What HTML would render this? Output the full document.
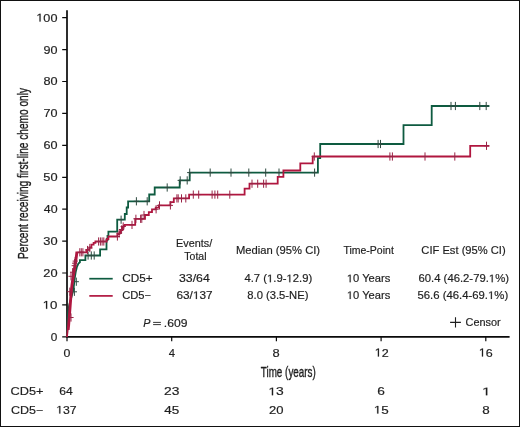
<!DOCTYPE html>
<html><head><meta charset="utf-8"><style>
html,body{margin:0;padding:0;background:#fff;}
body{width:520px;height:427px;overflow:hidden;}
svg{display:block;will-change:transform;}
.o{fill:none;stroke:none;}
text{font-family:"Liberation Sans",sans-serif;font-size:11px;fill:#1e1e1e;stroke:#1e1e1e;stroke-width:0.18px;}
</style></head><body>
<svg width="520" height="427" viewBox="0 0 520 427">
<rect x="0.5" y="0.5" width="519" height="426" fill="#fff" stroke="#111" stroke-width="1"/>
<g fill="none" stroke="#0a0a0a" stroke-width="1.7">
<path d="M67 10.3V337.5M66.3 336.8H509.6"/>
<path d="M62.2 336.8H67M62.2 304.9H67M62.2 273H67M62.2 241.1H67M62.2 209.2H67M62.2 177.3H67M62.2 145.3H67M62.2 113.4H67M62.2 81.5H67M62.2 49.6H67M62.2 17.7H67M67 336.8V341.3M171.7 336.8V341.3M276.4 336.8V341.3M381.1 336.8V341.3M485.8 336.8V341.3" stroke-width="1.2"/>
</g>
<text id="ylab" transform="translate(28.2 173.45) rotate(-90)" text-anchor="middle" textLength="171" lengthAdjust="spacingAndGlyphs" style="font-size:14.4px;stroke:#1e1e1e;stroke-width:0.35">Percent receiving first-line chemo only</text>
<text id="xlab" transform="translate(288.3 376.6)" text-anchor="middle" textLength="55" lengthAdjust="spacingAndGlyphs" style="font-size:14.4px;stroke:#1e1e1e;stroke-width:0.35">Time (years)</text>
<g fill="none" stroke-linejoin="miter" stroke-linecap="butt">
<polyline points="67,337 67.5,325 68.2,312 69.2,305 70.3,301 71.5,297 72.8,292 73.6,288 74.2,283 74.9,277 75.7,272 76.9,267 78.4,263.6 79.9,262.3 79.9,260.2 85.4,260.2 85.4,255.5 100.1,255.5 100.1,249.4 106.5,249.4 106.5,240 107.5,240 107.5,236 108.4,236 108.4,231.6 117.2,231.6 117.2,219.7 124.8,219.7 124.8,214 126.7,214 126.7,207.5 128.1,207.5 128.1,201.3 149.2,201.3 149.2,194.5 154.7,194.5 154.7,187.5 179.7,187.5 179.7,180.4 189.7,180.4 189.7,172.6 317.9,172.6 317.9,158.1 320.2,158.1 320.2,144 403.5,144 403.5,125.2 431.7,125.2 431.7,106 489.4,106" stroke="#0e5b40" stroke-width="1.8"/>
<path d="M88.1 251.4v8.2M85.5 255.5h5.2M91.3 251.4v8.2M88.7 255.5h5.2M94.2 251.4v8.2M91.6 255.5h5.2M121.1 215.6v8.2M118.5 219.7h5.2M136.4 197.2v8.2M133.8 201.3h5.2M147.2 197.2v8.2M144.6 201.3h5.2M167.2 183.4v8.2M164.6 187.5h5.2M180.2 176.3v8.2M177.6 180.4h5.2M187.2 176.3v8.2M184.6 180.4h5.2M189.7 168.5v8.2M187.1 172.6h5.2M210.2 168.5v8.2M207.6 172.6h5.2M231 168.5v8.2M228.4 172.6h5.2M248.8 168.5v8.2M246.2 172.6h5.2M265.7 168.5v8.2M263.1 172.6h5.2M279 168.5v8.2M276.4 172.6h5.2M314.6 168.5v8.2M312 172.6h5.2M378.1 139.9v8.2M375.5 144h5.2M380.5 139.9v8.2M377.9 144h5.2M451 101.9v8.2M448.4 106h5.2M455.4 101.9v8.2M452.8 106h5.2M479.8 101.9v8.2M477.2 106h5.2M486.2 101.9v8.2M483.6 106h5.2M76.3 277.6v8.2M73.7 281.7h5.2M74.4 287.7v8.2M71.8 291.8h5.2" stroke="#2e4a40" stroke-width="1"/>
<polyline points="67,337 67.6,330 68.1,325 68.9,315 69.6,306 70.2,298 70.8,291 71.4,285 72.3,279 73.1,274 73.9,269 74.6,265 75.2,261 75.6,258 76,255 76.3,252.3 86.5,252.3 86.5,249.8 89.3,249.8 89.3,247.5 91.4,247.5 91.4,244.7 93.6,244.7 93.6,242.8 95.4,242.8 95.4,241.5 106.7,241.5 106.7,239 108.4,239 108.4,236.5 117.4,236.5 117.4,234.1 119.4,234.1 119.4,232.2 120.8,232.2 120.8,230 122.2,230 122.2,227.8 123.6,227.8 123.6,225.8 124.7,225.8 124.7,224.9 135.2,224.9 135.2,218.8 145,218.8 145,215 148.8,215 148.8,212.2 152,212.2 152,209.3 155.7,209.3 155.7,207.6 158.9,207.6 158.9,205.4 170.4,205.4 170.4,202.2 173.8,202.2 173.8,198.4 189.1,198.4 189.1,194.6 244.6,194.6 244.6,188.6 249.5,188.6 249.5,183.7 277.7,183.7 277.7,176.8 283.4,176.8 283.4,170.5 300.3,170.5 300.3,163.4 312.7,163.4 312.7,156.5 470.2,156.5 470.2,145.8 489.4,145.8" stroke="#b0163f" stroke-width="1.8"/>
<polyline points="68.7,330 69.2,325 70,315 70.7,306 71.3,298 71.9,291 72.5,285 73.4,279 74.2,274 75,269 75.7,265 76.3,261 76.7,258 77.1,255 77.4,252.3" stroke="#b0163f" stroke-width="1.8"/>
<path d="M79.8 248.2v8.2M77.2 252.3h5.2M81.3 248.2v8.2M78.7 252.3h5.2M82.9 248.2v8.2M80.3 252.3h5.2M98.6 237.4v8.2M96 241.5h5.2M100.4 237.4v8.2M97.8 241.5h5.2M102.1 237.4v8.2M99.5 241.5h5.2M103.8 237.4v8.2M101.2 241.5h5.2M117.4 232.4v8.2M114.8 236.5h5.2M132 220.8v8.2M129.4 224.9h5.2M135.9 214.7v8.2M133.3 218.8h5.2M140.6 214.7v8.2M138 218.8h5.2M141.8 214.7v8.2M139.2 218.8h5.2M144 210.9v8.2M141.4 215h5.2M156.1 205.2v8.2M153.5 209.3h5.2M159.5 201.3v8.2M156.9 205.4h5.2M170.4 201.3v8.2M167.8 205.4h5.2M176.9 194.3v8.2M174.3 198.4h5.2M178.2 194.3v8.2M175.6 198.4h5.2M181.5 194.3v8.2M178.9 198.4h5.2M185.8 194.3v8.2M183.2 198.4h5.2M193.3 190.5v8.2M190.7 194.6h5.2M198.7 190.5v8.2M196.1 194.6h5.2M212.1 190.5v8.2M209.5 194.6h5.2M214.9 190.5v8.2M212.3 194.6h5.2M217.7 190.5v8.2M215.1 194.6h5.2M229.8 190.5v8.2M227.2 194.6h5.2M252 179.6v8.2M249.4 183.7h5.2M257.7 179.6v8.2M255.1 183.7h5.2M263.6 179.6v8.2M261 183.7h5.2M266.1 179.6v8.2M263.5 183.7h5.2M314.3 152.4v8.2M311.7 156.5h5.2M389.9 152.4v8.2M387.3 156.5h5.2M392.4 152.4v8.2M389.8 156.5h5.2M425 152.4v8.2M422.4 156.5h5.2M454.8 152.4v8.2M452.2 156.5h5.2M486.5 141.7v8.2M483.9 145.8h5.2M71 313.4v8.2M68.4 317.5h5.2M69.8 287.6v8.2M67.2 291.7h5.2M71 272.2v8.2M68.4 276.3h5.2M72.6 268.1v8.2M70 272.2h5.2M74.2 261.6v8.2M71.6 265.7h5.2M74.6 259.1v8.2M72 263.2h5.2M75.2 257v8.2M72.6 261.1h5.2M87.5 245.9v8.2M84.9 250h5.2M89.8 243.9v8.2M87.2 248h5.2M119.2 229.4v8.2M116.6 233.5h5.2M121.6 225.4v8.2M119 229.5h5.2M123.2 222.4v8.2M120.6 226.5h5.2" stroke="#9a2346" stroke-width="1"/>
<path d="M89.3 278.7H112.7" stroke="#0e5b40" stroke-width="1.7"/>
<path d="M89.3 295.9H112.7" stroke="#b0163f" stroke-width="1.7"/>
<path d="M455.5 317.2V327.6M450.1 322.4H460.9" stroke="#1e1e1e" stroke-width="1.1"/>
<path d="M153.1 322.4H160.9M153.1 324.6H160.9" stroke="#1e1e1e" stroke-width="0.9"/>
</g>
<text id="h1" x="176.05" y="246.7" textLength="36.1" lengthAdjust="spacingAndGlyphs">Events/</text>
<text id="h2" x="184.37" y="259.9" textLength="22.19" lengthAdjust="spacingAndGlyphs">Total</text>
<text id="h3" x="235.91" y="253.7" textLength="84.19" lengthAdjust="spacingAndGlyphs">Median (95% CI)</text>
<text id="h4" x="343.42" y="253.8" textLength="50.4" lengthAdjust="spacingAndGlyphs">Time-Point</text>
<text id="h5" x="421.35" y="253.8" textLength="84.31" lengthAdjust="spacingAndGlyphs">CIF Est (95% CI)</text>
<text id="l1" x="122.25" y="282.2" textLength="30.36" lengthAdjust="spacingAndGlyphs">CD5+</text>
<text id="l2" x="122.16" y="299" textLength="28.9" lengthAdjust="spacingAndGlyphs">CD5&#8722;</text>
<text id="e1" x="178.99" y="282.2" textLength="30.77" lengthAdjust="spacingAndGlyphs">33/64</text>
<text id="e2" x="176.51" y="299" textLength="36.07" lengthAdjust="spacingAndGlyphs">63/<tspan class="o">1</tspan>37</text>
<text id="m1" x="244.4" y="282.2" textLength="67.82" lengthAdjust="spacingAndGlyphs">4.7 (<tspan class="o">1</tspan>.9-<tspan class="o">1</tspan>2.9)</text>
<text id="m2" x="247.3" y="299" textLength="61.12" lengthAdjust="spacingAndGlyphs">8.0 (3.5-NE)</text>
<text id="t1" x="346.85" y="282.2" textLength="43.45" lengthAdjust="spacingAndGlyphs"><tspan class="o">1</tspan>0 Years</text>
<text id="t2" x="346.88" y="299" textLength="43.39" lengthAdjust="spacingAndGlyphs"><tspan class="o">1</tspan>0 Years</text>
<text id="c1" x="418.49" y="282.2" textLength="90.47" lengthAdjust="spacingAndGlyphs">60.4 (46.2-79.<tspan class="o">1</tspan>%)</text>
<text id="c2" x="417.48" y="299" textLength="90.7" lengthAdjust="spacingAndGlyphs">56.6 (46.4-69.<tspan class="o">1</tspan>%)</text>
<text id="p1" x="143.2" y="326.7" textLength="7.18" lengthAdjust="spacingAndGlyphs" style="font-size:11px;font-style:italic">P</text>
<text id="p3" x="163.81" y="326.7" textLength="23.66" lengthAdjust="spacingAndGlyphs">.609</text>
<text id="cs" x="465.53" y="325.9" textLength="35.16" lengthAdjust="spacingAndGlyphs">Censor</text>
<text id="r1" x="10.49" y="395.2" textLength="32.93" lengthAdjust="spacingAndGlyphs">CD5+</text>
<text id="r2" x="11.06" y="413.5" textLength="32.23" lengthAdjust="spacingAndGlyphs">CD5&#8722;</text>
<text id="ra0" x="59.22" y="395.2" textLength="13.46" lengthAdjust="spacingAndGlyphs">64</text>
<text id="ra1" x="163.98" y="395.2" textLength="15.37" lengthAdjust="spacingAndGlyphs">23</text>
<text id="ra2" x="268.38" y="395.2" textLength="15.42" lengthAdjust="spacingAndGlyphs"><tspan class="o">1</tspan>3</text>
<text id="ra3" x="377.39" y="395.2" textLength="7.62" lengthAdjust="spacingAndGlyphs">6</text>
<text id="ra4" x="481.99" y="395.2" textLength="8.66" lengthAdjust="spacingAndGlyphs"><tspan class="o">1</tspan></text>
<text id="rb0" x="56.16" y="413.5" textLength="20.47" lengthAdjust="spacingAndGlyphs"><tspan class="o">1</tspan>37</text>
<text id="rb1" x="164.3" y="413.5" textLength="15.03" lengthAdjust="spacingAndGlyphs">45</text>
<text id="rb2" x="269.13" y="413.5" textLength="14.49" lengthAdjust="spacingAndGlyphs">20</text>
<text id="rb3" x="373.79" y="413.5" textLength="14.97" lengthAdjust="spacingAndGlyphs"><tspan class="o">1</tspan>5</text>
<text id="rb4" x="482.22" y="413.5" textLength="7.47" lengthAdjust="spacingAndGlyphs">8</text>
<text id="x0" x="63.64" y="356.5" textLength="6.87" lengthAdjust="spacingAndGlyphs" style="font-size:11.6px;">0</text>
<text id="x1" x="168.68" y="356.5" textLength="6.26" lengthAdjust="spacingAndGlyphs" style="font-size:11.6px;">4</text>
<text id="x2" x="272.62" y="356.5" textLength="7.18" lengthAdjust="spacingAndGlyphs" style="font-size:11.6px;">8</text>
<text id="x3" x="374.71" y="356.5" textLength="13.98" lengthAdjust="spacingAndGlyphs" style="font-size:11.6px;"><tspan class="o">1</tspan>2</text>
<text id="x4" x="478.79" y="356.5" textLength="13.91" lengthAdjust="spacingAndGlyphs" style="font-size:11.6px;"><tspan class="o">1</tspan>6</text>
<text id="y0" x="50.85" y="340.7" textLength="6.57" lengthAdjust="spacingAndGlyphs" style="font-size:11.3px;">0</text>
<text id="y1" x="42.65" y="308.79" textLength="14.78" lengthAdjust="spacingAndGlyphs" style="font-size:11.3px;"><tspan class="o">1</tspan>0</text>
<text id="y2" x="43.29" y="276.88" textLength="14.25" lengthAdjust="spacingAndGlyphs" style="font-size:11.3px;">20</text>
<text id="y3" x="43.32" y="244.97" textLength="14.28" lengthAdjust="spacingAndGlyphs" style="font-size:11.3px;">30</text>
<text id="y4" x="43.77" y="213.06" textLength="13.79" lengthAdjust="spacingAndGlyphs" style="font-size:11.3px;">40</text>
<text id="y5" x="43.33" y="181.15" textLength="14.25" lengthAdjust="spacingAndGlyphs" style="font-size:11.3px;">50</text>
<text id="y6" x="43.46" y="149.24" textLength="14.03" lengthAdjust="spacingAndGlyphs" style="font-size:11.3px;">60</text>
<text id="y7" x="43.45" y="117.33" textLength="14.02" lengthAdjust="spacingAndGlyphs" style="font-size:11.3px;">70</text>
<text id="y8" x="43.41" y="85.42" textLength="14.13" lengthAdjust="spacingAndGlyphs" style="font-size:11.3px;">80</text>
<text id="y9" x="43.45" y="53.51" textLength="13.99" lengthAdjust="spacingAndGlyphs" style="font-size:11.3px;">90</text>
<text id="y10" x="36.3" y="21.6" textLength="21.13" lengthAdjust="spacingAndGlyphs" style="font-size:11.3px;"><tspan class="o">1</tspan>00</text>
<path class="one-e2" d="M515 0V1237L197 1010V1180L530 1409H696V0Z" transform="translate(192.896 299) scale(0.005761 -0.005371)" fill="#1e1e1e" stroke="#1e1e1e" stroke-width="33.51"/>
<path class="one-m1" d="M515 0V1237L197 1010V1180L530 1409H696V0Z" transform="translate(266.996 282.2) scale(0.005519 -0.005371)" fill="#1e1e1e" stroke="#1e1e1e" stroke-width="33.51"/>
<path class="one-m1" d="M515 0V1237L197 1010V1180L530 1409H696V0Z" transform="translate(286.465 282.2) scale(0.005519 -0.005371)" fill="#1e1e1e" stroke="#1e1e1e" stroke-width="33.51"/>
<path class="one-t1" d="M515 0V1237L197 1010V1180L530 1409H696V0Z" transform="translate(346.85 282.2) scale(0.005456 -0.005371)" fill="#1e1e1e" stroke="#1e1e1e" stroke-width="33.51"/>
<path class="one-t2" d="M515 0V1237L197 1010V1180L530 1409H696V0Z" transform="translate(346.88 299) scale(0.005448 -0.005371)" fill="#1e1e1e" stroke="#1e1e1e" stroke-width="33.51"/>
<path class="one-c1" d="M515 0V1237L197 1010V1180L530 1409H696V0Z" transform="translate(488.85 282.2) scale(0.005524 -0.005371)" fill="#1e1e1e" stroke="#1e1e1e" stroke-width="33.51"/>
<path class="one-c2" d="M515 0V1237L197 1010V1180L530 1409H696V0Z" transform="translate(488.019 299) scale(0.005538 -0.005371)" fill="#1e1e1e" stroke="#1e1e1e" stroke-width="33.51"/>
<path class="one-ra2" d="M515 0V1237L197 1010V1180L530 1409H696V0Z" transform="translate(268.38 395.2) scale(0.006769 -0.005371)" fill="#1e1e1e" stroke="#1e1e1e" stroke-width="33.51"/>
<path class="one-ra4" d="M515 0V1237L197 1010V1180L530 1409H696V0Z" transform="translate(481.99 395.2) scale(0.007603 -0.005371)" fill="#1e1e1e" stroke="#1e1e1e" stroke-width="33.51"/>
<path class="one-rb0" d="M515 0V1237L197 1010V1180L530 1409H696V0Z" transform="translate(56.16 413.5) scale(0.005991 -0.005371)" fill="#1e1e1e" stroke="#1e1e1e" stroke-width="33.51"/>
<path class="one-rb3" d="M515 0V1237L197 1010V1180L530 1409H696V0Z" transform="translate(373.79 413.5) scale(0.006572 -0.005371)" fill="#1e1e1e" stroke="#1e1e1e" stroke-width="33.51"/>
<path class="one-x3" d="M515 0V1237L197 1010V1180L530 1409H696V0Z" transform="translate(374.71 356.5) scale(0.006137 -0.005664)" fill="#1e1e1e" stroke="#1e1e1e" stroke-width="31.78"/>
<path class="one-x4" d="M515 0V1237L197 1010V1180L530 1409H696V0Z" transform="translate(478.79 356.5) scale(0.006106 -0.005664)" fill="#1e1e1e" stroke="#1e1e1e" stroke-width="31.78"/>
<path class="one-y1" d="M515 0V1237L197 1010V1180L530 1409H696V0Z" transform="translate(42.65 308.79) scale(0.006488 -0.005518)" fill="#1e1e1e" stroke="#1e1e1e" stroke-width="32.62"/>
<path class="one-y10" d="M515 0V1237L197 1010V1180L530 1409H696V0Z" transform="translate(36.3 21.6) scale(0.006189 -0.005518)" fill="#1e1e1e" stroke="#1e1e1e" stroke-width="32.62"/>
</svg>
</body></html>
